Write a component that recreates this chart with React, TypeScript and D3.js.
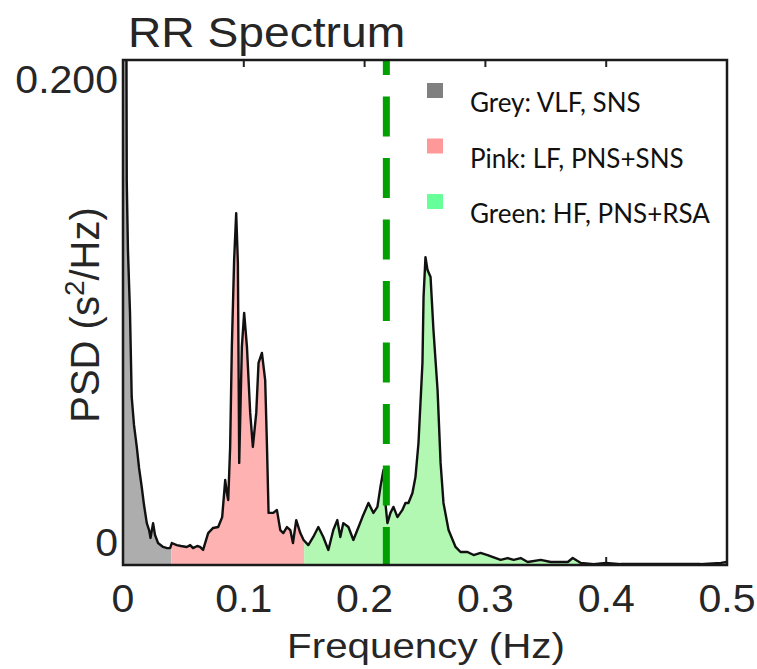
import React from "react";
import { scaleLinear, area, line } from "d3";

// RR interval power spectrum: [frequency Hz, PSD s^2/Hz]
const spectrum: [number, number][] = [
  [0, 0.3], [0.0025, 0.3], [0.0031, 0.166], [0.0041, 0.136], [0.0058, 0.109],
  [0.0072, 0.0726], [0.0091, 0.0605], [0.0114, 0.051], [0.0133, 0.0419], [0.0155, 0.0337],
  [0.0174, 0.0259], [0.0197, 0.0181], [0.0216, 0.0151], [0.0228, 0.0117], [0.0249, 0.0181],
  [0.0265, 0.013], [0.029, 0.0095], [0.0332, 0.0078], [0.0365, 0.0073], [0.039, 0.0073],
  [0.0404, 0.0095], [0.0445, 0.0086], [0.048, 0.0082], [0.0528, 0.0078], [0.0556, 0.0086],
  [0.058, 0.0073], [0.0614, 0.0082], [0.0638, 0.0078], [0.0663, 0.0065], [0.0705, 0.0138],
  [0.0746, 0.016], [0.0788, 0.0164], [0.0821, 0.0207], [0.0846, 0.0367], [0.086, 0.0311],
  [0.0871, 0.0281], [0.0887, 0.051], [0.0901, 0.0942], [0.092, 0.1318], [0.0937, 0.152],
  [0.0951, 0.1305], [0.0962, 0.0441], [0.0984, 0.0942], [0.1003, 0.1089], [0.1026, 0.0942],
  [0.1053, 0.0657], [0.1075, 0.051], [0.1103, 0.0657], [0.1122, 0.0873], [0.115, 0.0916],
  [0.1177, 0.0799], [0.1192, 0.051], [0.1205, 0.0225], [0.1244, 0.0225], [0.1274, 0.0238],
  [0.1302, 0.0151], [0.1327, 0.0138], [0.1357, 0.0164], [0.1385, 0.0151], [0.1407, 0.0095],
  [0.1434, 0.0194], [0.1468, 0.0138], [0.1495, 0.0108], [0.1534, 0.0086], [0.1575, 0.0121],
  [0.1617, 0.0164], [0.1658, 0.0121], [0.17, 0.0065], [0.1741, 0.0151], [0.1774, 0.0194],
  [0.1799, 0.0121], [0.1824, 0.0181], [0.1866, 0.0164], [0.1907, 0.0108], [0.194, 0.0151],
  [0.1982, 0.0207], [0.2032, 0.0268], [0.2073, 0.0225], [0.2106, 0.0251], [0.2131, 0.0337],
  [0.2156, 0.041], [0.2172, 0.0268], [0.2189, 0.0181], [0.2214, 0.0225], [0.2239, 0.0251],
  [0.2272, 0.0207], [0.2313, 0.0238], [0.2338, 0.0268], [0.2363, 0.0268], [0.2396, 0.0311],
  [0.2421, 0.038], [0.2446, 0.0527], [0.2479, 0.0873], [0.2488, 0.1158], [0.2504, 0.133],
  [0.2521, 0.1274], [0.2546, 0.1244], [0.257, 0.1015], [0.2604, 0.0756], [0.2629, 0.0441],
  [0.2653, 0.0268], [0.2695, 0.0151], [0.2753, 0.0078], [0.2794, 0.0056], [0.2852, 0.0056],
  [0.2902, 0.0043], [0.296, 0.0052], [0.3018, 0.0043], [0.3126, 0.0022], [0.3184, 0.003],
  [0.3234, 0.0022], [0.3292, 0.003], [0.335, 0.0013], [0.3458, 0.0022], [0.3541, 0.0013],
  [0.3682, 0.0013], [0.3723, 0.003], [0.379, 0.0009], [0.3897, 0.0004], [0.3997, 0.0009],
  [0.412, 0.0004], [0.445, 0.0004], [0.478, 0.0004], [0.495, 0.0009], [0.5, 0.0013],
];

// VLF / LF / HF band edges (Hz)
const bandEdges = [0, 0.04, 0.15, 0.4];
const bandFills = ["#adadad", "#ffb2b2", "#b2f7b2"];

const legendLabels = ["Grey: VLF, SNS", "Pink: LF, PNS+SNS", "Green: HF, PNS+RSA"];
const legendColors = ["#808080", "#ff9999", "#66ff99"];

const markerFreq = 0.218;

const xTicks = [0, 0.1, 0.2, 0.3, 0.4, 0.5];
const xTickLabels = ["0", "0.1", "0.2", "0.3", "0.4", "0.5"];
const yTicks = [0, 0.2];
const yTickLabels = ["0", "0.200"];

const W = 757, H = 669;
const left = 123, right = 727, top = 60, bottom = 565;
const axisFont = "'Liberation Sans', Arial, sans-serif";

// the source figure is a bit wider than tall, so horizontal text gets stretched
function Stretched({ x, y, sx, anchor, size, children, baseline }: any) {
  return (
    <g transform={`translate(${x},${y}) scale(${sx},1)`}>
      <text textAnchor={anchor} dominantBaseline={baseline} fontFamily={axisFont} fontSize={size} fill="#262626">
        {children}
      </text>
    </g>
  );
}

export default function App() {
  const x = scaleLinear().domain([0, 0.5]).range([left, right]);
  const y = scaleLinear().domain([0, 0.2]).range([bottom, 102]);

  const areaGen = area<[number, number]>()
    .x(d => x(d[0]))
    .y0(bottom)
    .y1(d => y(d[1]));
  const lineGen = line<[number, number]>()
    .x(d => x(d[0]))
    .y(d => y(d[1]));

  const areaPath = areaGen(spectrum) || "";
  const linePath = lineGen(spectrum) || "";

  return (
    <svg width={W} height={H} style={{ position: "absolute", left: 0, top: 0, background: "#fff" }}>
      <defs>
        <clipPath id="plot-clip">
          <rect x={left} y={top} width={right - left} height={bottom - top} />
        </clipPath>
        {bandFills.map((_, i) => (
          <clipPath id={"band-" + i} key={i}>
            <rect x={x(bandEdges[i])} y={top} width={x(bandEdges[i + 1]) - x(bandEdges[i])} height={bottom - top} />
          </clipPath>
        ))}
      </defs>

      {/* title */}
      <Stretched x={128} y={47} sx={1.1} anchor="start" size={42}>RR Spectrum</Stretched>

      {/* ticks on top and bottom, pointing in */}
      {xTicks.slice(1, -1).map(t => (
        <g key={t} stroke="#222" strokeWidth={2}>
          <line x1={x(t)} x2={x(t)} y1={top} y2={top + 7} />
          <line x1={x(t)} x2={x(t)} y1={bottom} y2={bottom - 8} />
        </g>
      ))}

      <g clipPath="url(#plot-clip)">
        {bandFills.map((c, i) => (
          <path key={i} d={areaPath} fill={c} clipPath={"url(#band-" + i + ")"} />
        ))}
        <path d={linePath} fill="none" stroke="#111" strokeWidth={2.4} strokeLinejoin="round" />
      </g>

      {/* dashed marker */}
      <line
        x1={x(markerFreq)} x2={x(markerFreq)} y1={top} y2={bottom}
        stroke="#00a000" strokeWidth={7} strokeDasharray="40 21.5" strokeDashoffset={25}
      />

      {/* frame */}
      <rect x={left} y={top} width={right - left} height={bottom - top} fill="none" stroke="#1a1a1a" strokeWidth={2.5} />

      {/* x tick labels */}
      {xTicks.map((t, i) => (
        <Stretched key={t} x={x(t)} y={612} sx={1.08} anchor="middle" size={38}>{xTickLabels[i]}</Stretched>
      ))}
      {/* y tick labels */}
      {yTicks.map((t, i) => (
        <Stretched key={t} x={118} y={y(t) - 22} sx={1.08} anchor="end" size={38} baseline="central">
          {yTickLabels[i]}
        </Stretched>
      ))}

      {/* axis titles */}
      <Stretched x={426} y={658} sx={1.12} anchor="middle" size={36}>Frequency (Hz)</Stretched>
      <text transform="translate(99,315) rotate(-90)" textAnchor="middle" fontFamily={axisFont} fontSize={40} fill="#262626">
        PSD (s<tspan fontSize={28} dy={-15}>2</tspan><tspan dy={15}>/Hz)</tspan>
      </text>

      {/* legend */}
      {legendLabels.map((lab, i) => (
        <g key={lab}>
          <rect x={427} y={83 + i * 55.5} width={16} height={15} fill={legendColors[i]} />
          <text x={470} y={102 + i * 55.5} dominantBaseline="central" fontFamily="Lato, 'Open Sans', sans-serif" fontSize={26} fill="#111">
            {lab}
          </text>
        </g>
      ))}
    </svg>
  );
}
